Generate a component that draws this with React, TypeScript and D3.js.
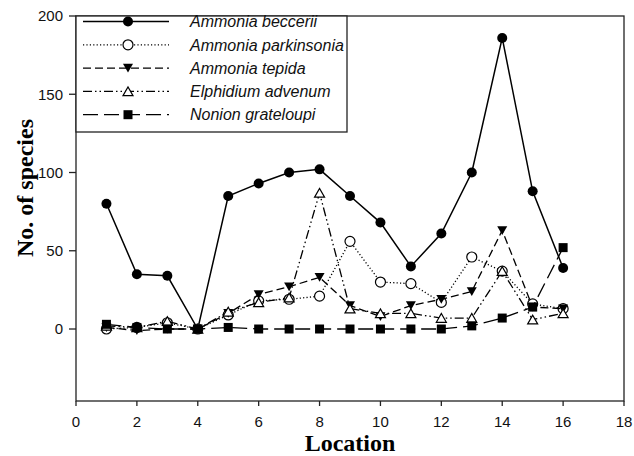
import * as d3 from "d3";

const LOCATIONS = [1, 2, 3, 4, 5, 6, 7, 8, 9, 10, 11, 12, 13, 14, 15, 16];
const BECCERII = [80, 35, 34, 0, 85, 93, 100, 102, 85, 68, 40, 61, 100, 186, 88, 39];
const PARKINSONIA = [0, 1, 4, 0, 9, 18, 19, 21, 56, 30, 29, 17, 46, 37, 16, 13];
const TEPIDA = [1, -1, 0, 0, 10, 22, 27, 33, 15, 8, 15, 19, 24, 63, 14, 13];
const ELPHIDIUM = [2, 1, 5, 0, 11, 17, 20, 87, 13, 10, 10, 7, 7, 37, 6, 10];
const NONION = [3, 1, 0, 0, 1, 0, 0, 0, 0, 0, 0, 0, 2, 7, 14, 52];

const X_TICKS = [0, 2, 4, 6, 8, 10, 12, 14, 16, 18];
const Y_TICKS = [0, 50, 100, 150, 200];

type Marker = "circle" | "openCircle" | "downTri" | "openTri" | "square";

type Series = {
  name: string;
  values: number[];
  dash: string;
  marker: Marker;
  width: number;
};

const SERIES: Series[] = [
  { name: "Ammonia beccerii", values: BECCERII, dash: "none", marker: "circle", width: 1.5 },
  { name: "Ammonia parkinsonia", values: PARKINSONIA, dash: "1.2,2.2", marker: "openCircle", width: 1.3 },
  { name: "Ammonia tepida", values: TEPIDA, dash: "8,4", marker: "downTri", width: 1.3 },
  { name: "Elphidium advenum", values: ELPHIDIUM, dash: "9,3,1.5,3,1.5,3", marker: "openTri", width: 1.3 },
  { name: "Nonion grateloupi", values: NONION, dash: "15,6", marker: "square", width: 1.3 },
];

const W = 634;
const H = 456;
const LEFT = 76;
const RIGHT = 624;
const TOP = 16;
const BOTTOM = 401;

function MarkerShape({ type, x, y }: { type: Marker; x: number; y: number }) {
  const s = 5;
  switch (type) {
    case "circle":
      return <circle cx={x} cy={y} r={s} fill="#000" />;
    case "openCircle":
      return <circle cx={x} cy={y} r={s} fill="#fff" stroke="#000" strokeWidth={1.2} />;
    case "downTri":
      return (
        <path
          d={`M${x - s},${y - s * 0.85}L${x + s},${y - s * 0.85}L${x},${y + s * 0.9}Z`}
          fill="#000"
        />
      );
    case "openTri":
      return (
        <path
          d={`M${x - s},${y + s * 0.85}L${x + s},${y + s * 0.85}L${x},${y - s * 0.9}Z`}
          fill="#fff"
          stroke="#000"
          strokeWidth={1.2}
        />
      );
    case "square":
      return <rect x={x - 4.5} y={y - 4.5} width={9} height={9} fill="#000" />;
  }
}

export default function App() {
  const x = d3.scaleLinear().domain([0, 18]).range([LEFT, RIGHT]);
  const y = d3.scaleLinear().domain([-46, 200]).range([BOTTOM, TOP]);

  const line = (vals: number[]) =>
    d3
      .line<number>()
      .x((_, i) => x(LOCATIONS[i]))
      .y((v) => y(v))(vals) ?? "";

  const legendRowY = (i: number) => 21.5 + i * 23.3;

  return (
    <svg
      width={W}
      height={H}
      style={{ position: "absolute", left: 0, top: 0, background: "#fff" }}
    >
      {/* series lines, then markers */}
      {SERIES.map((s) => (
        <g key={s.name}>
          <path
            d={line(s.values)}
            fill="none"
            stroke="#000"
            strokeWidth={s.width}
            strokeDasharray={s.dash}
          />
          {s.values.map((v, i) => (
            <MarkerShape key={i} type={s.marker} x={x(LOCATIONS[i])} y={y(v)} />
          ))}
        </g>
      ))}

      {/* frame */}
      <rect
        x={LEFT}
        y={TOP}
        width={RIGHT - LEFT}
        height={BOTTOM - TOP}
        fill="none"
        stroke="#222"
        strokeWidth={1.3}
      />

      {/* ticks */}
      <g fontFamily="Liberation Sans, Arial, sans-serif" fontSize={15} fill="#111">
        {Y_TICKS.map((t) => (
          <g key={t}>
            <line x1={LEFT - 7} x2={LEFT} y1={y(t)} y2={y(t)} stroke="#222" strokeWidth={1.3} />
            <text x={LEFT - 13} y={y(t)} dy="0.36em" textAnchor="end">
              {t}
            </text>
          </g>
        ))}
        {X_TICKS.map((t) => (
          <g key={t}>
            <line x1={x(t)} x2={x(t)} y1={BOTTOM} y2={BOTTOM + 5} stroke="#222" strokeWidth={1.3} />
            <text x={x(t)} y={427} textAnchor="middle">
              {t}
            </text>
          </g>
        ))}
      </g>

      {/* axis titles */}
      <text
        x={(LEFT + RIGHT) / 2}
        y={451}
        textAnchor="middle"
        fontFamily="Liberation Serif, Times New Roman, serif"
        fontWeight="bold"
        fontSize={24}
      >
        Location
      </text>
      <text
        transform={`translate(33, 188) rotate(-90)`}
        textAnchor="middle"
        fontFamily="Liberation Serif, Times New Roman, serif"
        fontWeight="bold"
        fontSize={24}
      >
        No. of species
      </text>

      {/* legend */}
      <rect x={LEFT} y={TOP} width={271} height={116} fill="#fff" stroke="#222" strokeWidth={1.3} />
      {SERIES.map((s, i) => {
        const ly = legendRowY(i);
        return (
          <g key={s.name}>
            <line
              x1={83}
              x2={169}
              y1={ly}
              y2={ly}
              stroke="#000"
              strokeWidth={s.width}
              strokeDasharray={s.dash}
            />
            <MarkerShape type={s.marker} x={128} y={ly} />
            <text
              x={190}
              y={ly}
              dy="0.36em"
              fontFamily="Liberation Sans, Arial, sans-serif"
              fontStyle="italic"
              fontSize={16}
              fill="#111"
            >
              {s.name}
            </text>
          </g>
        );
      })}
    </svg>
  );
}
